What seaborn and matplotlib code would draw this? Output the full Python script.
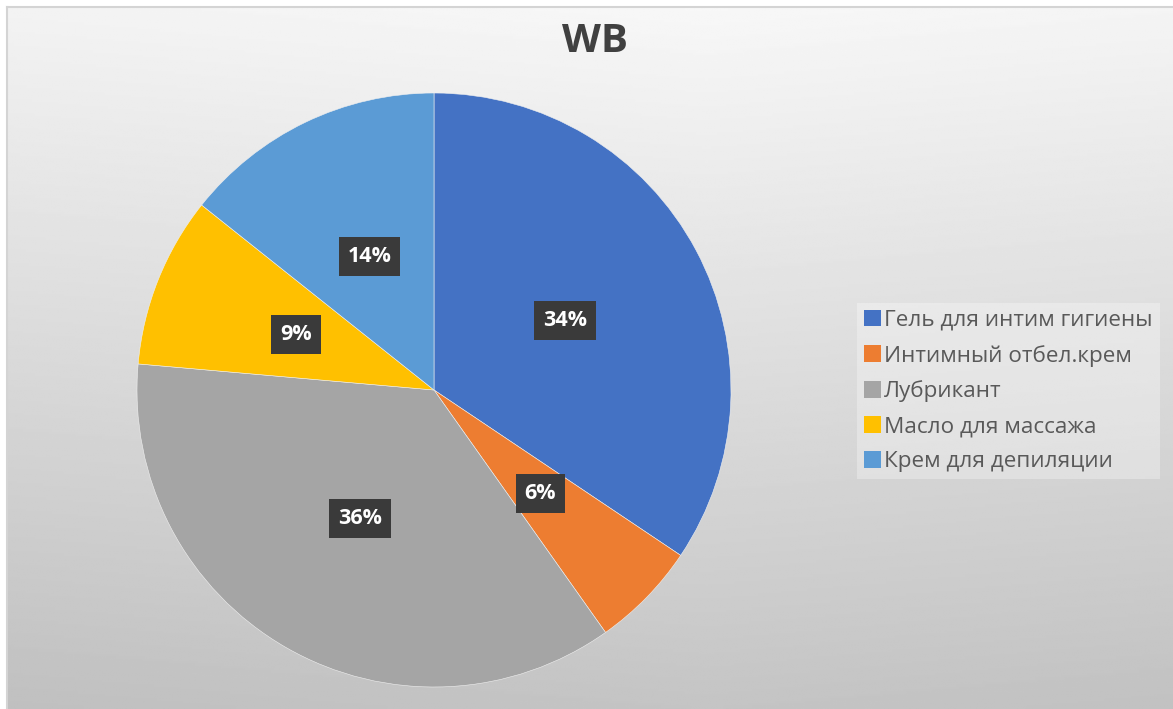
import numpy as np
import seaborn as sns
import matplotlib
matplotlib.use("Agg")
import matplotlib.pyplot as plt

# данные
categories = ["Гель для интим гигиены", "Интимный отбел.крем", "Лубрикант",
              "Масло для массажа", "Крем для депиляции"]
shares = [34.4, 5.8, 36.2, 9.3, 14.3]
title = "WB"

sns.set_style("white")
plt.rcParams["font.family"] = ["Open Sans", "DejaVu Sans"]
colors = sns.color_palette(["#4472C4", "#ED7D31", "#A5A5A5", "#FFC000", "#5B9BD5"])

W, H = 1173, 709
fig = plt.figure(figsize=(W / 100, H / 100), dpi=100)
fig.patch.set_facecolor("white")

# фон с градиентом
bg = fig.add_axes([7 / W, 0, 1 - 7 / W, 1 - 7 / H])
yy = np.linspace(0, 1, 300)[:, None]
xx = np.linspace(0, 1, 400)[None, :]
grad = 0.97 - 0.20 * yy - 0.03 * np.abs(xx - 0.6)
bg.imshow(grad, cmap="gray", vmin=0, vmax=1, aspect="auto")
bg.set_xticks([])
bg.set_yticks([])
for side in ["right", "bottom"]:
    bg.spines[side].set_visible(False)
for side in ["left", "top"]:
    bg.spines[side].set_color("#d4d4d4")
    bg.spines[side].set_linewidth(1.5)

# пирог
cx, cy, r = 434, 390, 297
ax = fig.add_axes([(cx - r) / W, (H - cy - r) / H, 2 * r / W, 2 * r / H])
ax.set_facecolor("none")
wedges, texts, autotexts = ax.pie(
    shares, colors=colors, startangle=90, counterclock=False,
    autopct="%.0f%%", pctdistance=0.5,
    wedgeprops=dict(edgecolor="#f0f0f0", linewidth=0.4))
ax.set_xlim(-1, 1)
ax.set_ylim(-1, 1)
for t in autotexts:
    t.set_color("white")
    t.set_fontweight("bold")
    t.set_fontsize(15.5)
    t.set_bbox(dict(boxstyle="square,pad=0.42", facecolor="#3a3a3a", edgecolor="none"))

fig.text(595 / W, 1 - 42 / H, title, ha="center", va="center",
         fontsize=29, fontweight="bold", color="#404040")

leg = fig.legend(wedges, categories, loc="center left",
                 bbox_to_anchor=(846 / W, 1 - 391 / H), fontsize=16.2,
                 handlelength=0.75, handleheight=0.75, handletextpad=0.15,
                 labelspacing=0.62, borderpad=0.3, fancybox=False,
                 frameon=True, facecolor="white", edgecolor="none", framealpha=0.3)
for t in leg.get_texts():
    t.set_color("#595959")
for h in leg.legend_handles:
    h.set_edgecolor("none")

fig.savefig("out.png", dpi=100)
